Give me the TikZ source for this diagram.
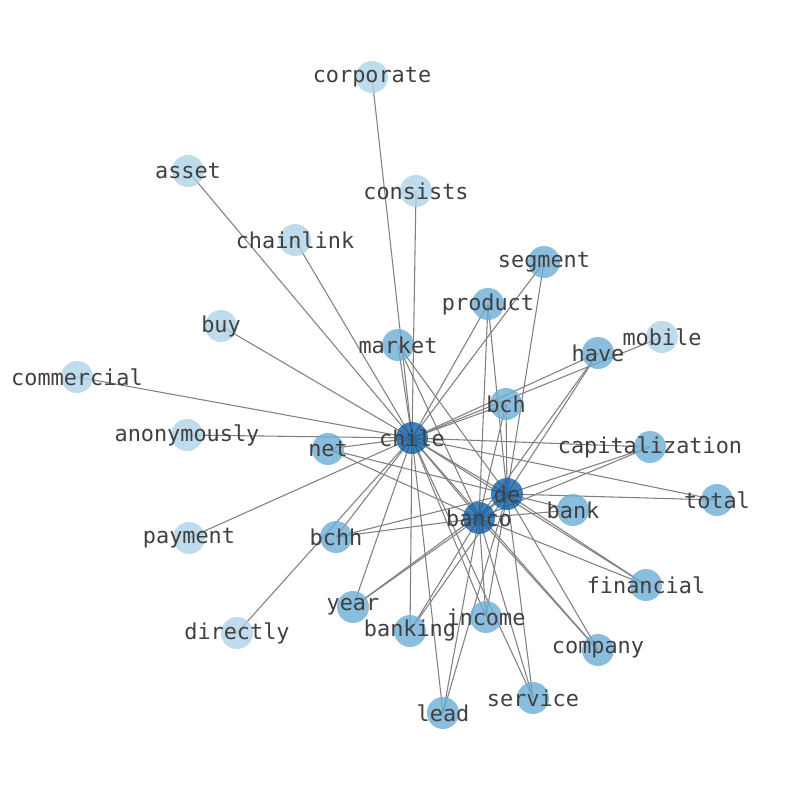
\documentclass[tikz,border=0pt]{standalone}
\usepackage{fontspec}
\usepackage{tikz}
\usetikzlibrary{backgrounds}
\newfontfamily\wordfont{DejaVu Sans Mono}
\definecolor{hubblue}{HTML}{1260A8}
\definecolor{midblue}{HTML}{6CAED7}
\definecolor{leafblue}{HTML}{AED3E7}
\definecolor{wordgray}{HTML}{404040}

\begin{document}
\begin{tikzpicture}[
    x=0.75pt, y=-0.75pt,
    wnode/.style={circle, minimum size=24pt, inner sep=0pt, fill opacity=0.8, text opacity=1,
        text=wordgray, font=\wordfont\fontsize{16.4}{18}\selectfont,
        execute at begin node={\hbox to 0pt\bgroup\hss}, execute at end node={\hss\egroup}},
    hubnode/.style={wnode, fill=hubblue},
    midnode/.style={wnode, fill=midblue},
    leafnode/.style={wnode, fill=leafblue},
    edge/.style={gray, line width=0.8pt}
]
\useasboundingbox (0,0) rectangle (794,790);

% Leaves around chile
\node[leafnode] (corporate) at (372,77) {corporate};
\node[leafnode] (asset) at (188,171) {asset};
\node[leafnode] (consists) at (416,191) {consists};
\node[leafnode] (chainlink) at (295,240) {chainlink};
\node[leafnode] (buy) at (221,326) {buy};
\node[leafnode] (mobile) at (662,337) {mobile};
\node[leafnode] (commercial) at (77,377) {commercial};
\node[leafnode] (anonymously) at (187,435) {anonymously};
\node[leafnode] (payment) at (189,538) {payment};
\node[leafnode] (directly) at (237,633) {directly};

% Shared words
\node[midnode] (segment) at (544,262) {segment};
\node[midnode] (product) at (488,304) {product};
\node[midnode] (market) at (398,345) {market};
\node[midnode] (have) at (598,353) {have};
\node[midnode] (bch) at (506,404) {bch};
\node[midnode] (net) at (328,449) {net};
\node[midnode] (capitalization) at (650,447) {capitalization};
\node[midnode] (total) at (717,500) {total};
\node[midnode] (bank) at (573,510) {bank};
\node[midnode] (bchh) at (336,537) {bchh};
\node[midnode] (financial) at (646,585) {financial};
\node[midnode] (year) at (353,607) {year};
\node[midnode] (income) at (486,617) {income};
\node[midnode] (banking) at (410,631) {banking};
\node[midnode] (company) at (598,650) {company};
\node[midnode] (service) at (533,698) {service};
\node[midnode] (lead) at (443,713) {lead};

% Hubs
\node[hubnode] (chile) at (412,438) {chile};
\node[hubnode] (de) at (507,494) {de};
\node[hubnode] (banco) at (479,518) {banco};

\begin{pgfonlayer}{background}
% chile
\draw[edge] (chile.center) -- (corporate.center);
\draw[edge] (chile.center) -- (asset.center);
\draw[edge] (chile.center) -- (consists.center);
\draw[edge] (chile.center) -- (chainlink.center);
\draw[edge] (chile.center) -- (buy.center);
\draw[edge] (chile.center) -- (mobile.center);
\draw[edge] (chile.center) -- (commercial.center);
\draw[edge] (chile.center) -- (anonymously.center);
\draw[edge] (chile.center) -- (payment.center);
\draw[edge] (chile.center) -- (directly.center);
\draw[edge] (chile.center) -- (segment.center);
\draw[edge] (chile.center) -- (product.center);
\draw[edge] (chile.center) -- (market.center);
\draw[edge] (chile.center) -- (have.center);
\draw[edge] (chile.center) -- (bch.center);
\draw[edge] (chile.center) -- (net.center);
\draw[edge] (chile.center) -- (capitalization.center);
\draw[edge] (chile.center) -- (total.center);
\draw[edge] (chile.center) -- (bchh.center);
\draw[edge] (chile.center) -- (financial.center);
\draw[edge] (chile.center) -- (year.center);
\draw[edge] (chile.center) -- (income.center);
\draw[edge] (chile.center) -- (banking.center);
\draw[edge] (chile.center) -- (company.center);
\draw[edge] (chile.center) -- (service.center);
\draw[edge] (chile.center) -- (lead.center);
\draw[edge] (chile.center) -- (de.center);
\draw[edge] (chile.center) -- (banco.center);
% de
\draw[edge] (de.center) -- (segment.center);
\draw[edge] (de.center) -- (product.center);
\draw[edge] (de.center) -- (market.center);
\draw[edge] (de.center) -- (have.center);
\draw[edge] (de.center) -- (bch.center);
\draw[edge] (de.center) -- (net.center);
\draw[edge] (de.center) -- (capitalization.center);
\draw[edge] (de.center) -- (total.center);
\draw[edge] (de.center) -- (bank.center);
\draw[edge] (de.center) -- (bchh.center);
\draw[edge] (de.center) -- (financial.center);
\draw[edge] (de.center) -- (year.center);
\draw[edge] (de.center) -- (income.center);
\draw[edge] (de.center) -- (banking.center);
\draw[edge] (de.center) -- (company.center);
\draw[edge] (de.center) -- (service.center);
\draw[edge] (de.center) -- (lead.center);
\draw[edge] (de.center) -- (banco.center);
% banco
\draw[edge] (banco.center) -- (product.center);
\draw[edge] (banco.center) -- (market.center);
\draw[edge] (banco.center) -- (have.center);
\draw[edge] (banco.center) -- (bch.center);
\draw[edge] (banco.center) -- (net.center);
\draw[edge] (banco.center) -- (capitalization.center);
\draw[edge] (banco.center) -- (bank.center);
\draw[edge] (banco.center) -- (bchh.center);
\draw[edge] (banco.center) -- (financial.center);
\draw[edge] (banco.center) -- (year.center);
\draw[edge] (banco.center) -- (income.center);
\draw[edge] (banco.center) -- (banking.center);
\draw[edge] (banco.center) -- (company.center);
\draw[edge] (banco.center) -- (service.center);
\draw[edge] (banco.center) -- (lead.center);
\end{pgfonlayer}

\end{tikzpicture}
\end{document}
